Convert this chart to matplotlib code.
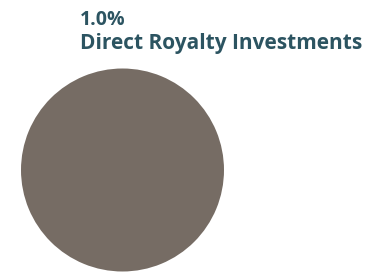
import matplotlib
matplotlib.use("Agg")
import matplotlib.pyplot as plt

categories = ["Direct Royalty Investments"]
values = [1.0]
labels = ["1.0%"]
colors = ["#766c64"]
text_color = "#2c5461"

W, H = 372, 275
fig = plt.figure(figsize=(W / 100, H / 100), dpi=100)
fig.patch.set_facecolor("white")

cx, cy, r = 122.5, 170, 101.5
ax = fig.add_axes([(cx - r) / W, (H - cy - r) / H, 2 * r / W, 2 * r / H])
ax.pie(values, colors=colors, startangle=90, counterclock=False,
       wedgeprops=dict(linewidth=0))
ax.set_xlim(-1, 1)
ax.set_ylim(-1, 1)
ax.set_aspect("equal")
ax.axis("off")

fig.text(80 / W, 1 - 25 / H, labels[0], ha="left", va="baseline",
         fontsize=14, fontweight="bold", family="Open Sans", color=text_color)
fig.text(80 / W, 1 - 49 / H, categories[0], ha="left", va="baseline",
         fontsize=15, fontweight="bold", family="Open Sans", color=text_color)

fig.savefig("out.png", dpi=100)
